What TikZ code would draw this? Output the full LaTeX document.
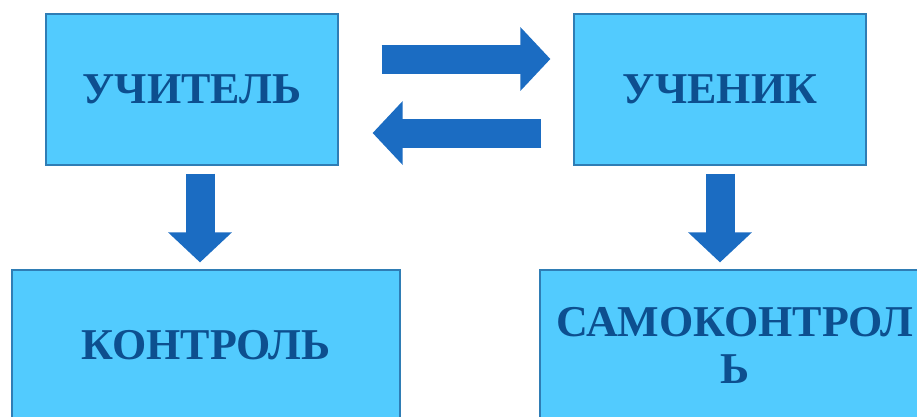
\documentclass[tikz,border=0pt]{standalone}
\usepackage{fontspec}
\setmainfont{Liberation Serif}
\usetikzlibrary{calc,arrows.meta}
\definecolor{boxfill}{HTML}{52CBFE}
\definecolor{boxline}{HTML}{2F7DB5}
\definecolor{txt}{HTML}{0D4F8F}
\definecolor{arr}{HTML}{1B6CC2}
\tikzset{
  box/.style={draw=boxline, line width=1.2pt, fill=boxfill, inner sep=0pt,
    font=\fontsize{44}{47}\selectfont\bfseries, text=txt, align=center},
  bigarrow/.style={draw=arr, line width=29pt,
    -{Triangle[length=30pt 0 0,width=62pt 0 0]}}
}
\begin{document}
\begin{tikzpicture}[x=1pt,y=-1pt]
\useasboundingbox (0,0) rectangle (917,416);
\clip (0,0) rectangle (917,416);
\node[box, minimum width=292pt, minimum height=151pt] (t) at (192,89.5) {УЧИТЕЛЬ};
\node[box, minimum width=292pt, minimum height=151pt] (s) at (720,89.5) {УЧЕНИК};
\node[box, minimum width=388pt, minimum height=151pt] (k) at (206,345.5) {КОНТРОЛЬ};
\node[box, minimum width=390pt, minimum height=151pt] (sk) at (735,345.5) {САМОКОНТРОЛ\\Ь};
\draw[bigarrow] ($(t.east)+(43,-30.5)$) -- ($(s.west)+(-23,-30.5)$);
\draw[bigarrow] ($(s.west)+(-32,43.5)$) -- ($(t.east)+(34,43.5)$);
\draw[bigarrow] ($(t.south)+(8,8)$) -- ($(k.north)+(-6,-7)$);
\draw[bigarrow] ($(s.south)+(0,8)$) -- ($(sk.north)+(-15,-7)$);
\end{tikzpicture}
\end{document}
